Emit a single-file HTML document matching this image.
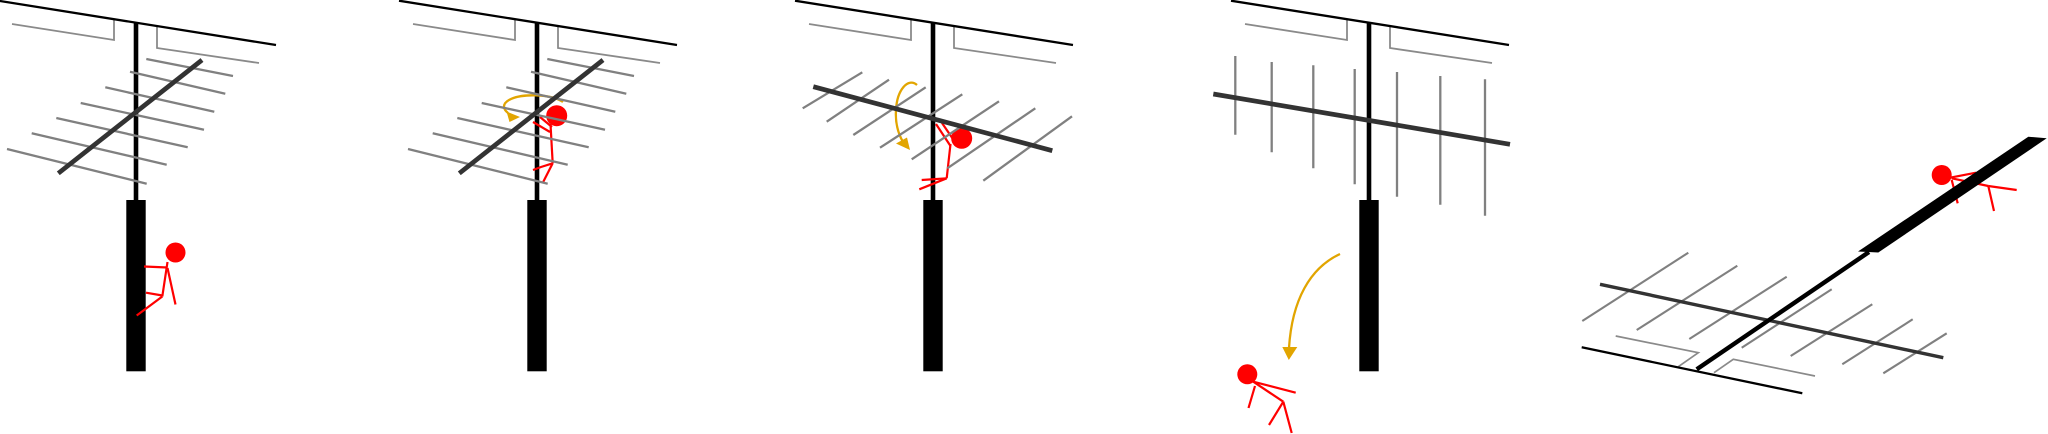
<!DOCTYPE html>
<html>
<head>
<meta charset="utf-8">
<style>
html,body{margin:0;padding:0;background:#fff;}
svg{display:block;}
</style>
</head>
<body>
<svg width="2048" height="434" viewBox="0 0 2048 434" xmlns="http://www.w3.org/2000/svg">
<defs>
  <g id="top">
    <path d="M12,24 L114,40 L114,20" fill="none" stroke="#8a8a8a" stroke-width="1.8"/>
    <path d="M157,27 L157,48 L259,63" fill="none" stroke="#8a8a8a" stroke-width="1.8"/>
    <line x1="-2" y1="0.7" x2="276" y2="45" stroke="#000" stroke-width="2.3"/>
    <line x1="136" y1="22" x2="136" y2="201" stroke="#000" stroke-width="4.6"/>
    <rect x="126.3" y="200" width="19.4" height="171.3" fill="#000"/>
  </g>
  <g id="elemsA" stroke="#808080" stroke-width="2.3" fill="none">
    <line x1="146.3" y1="59" x2="233" y2="76"/>
    <line x1="130" y1="71.7" x2="225.3" y2="93.7"/>
    <line x1="105.3" y1="87.3" x2="214.3" y2="111.7"/>
    <line x1="80.7" y1="103" x2="204" y2="129.7"/>
    <line x1="56.3" y1="118" x2="187.7" y2="147.3"/>
    <line x1="31.7" y1="133.3" x2="166.7" y2="164.7"/>
    <line x1="7" y1="149" x2="146.7" y2="183.7"/>
  </g>
  <line id="boomA" x1="58.3" y1="173.3" x2="202" y2="60" stroke="#333" stroke-width="4.7"/>
</defs>

<!-- Panel 1 -->
<use href="#top"/>
<g stroke="#f00" stroke-width="2.2" fill="none" stroke-linecap="butt">
  <line x1="144" y1="266.5" x2="167.5" y2="267.5"/>
  <line x1="167.5" y1="262" x2="162.3" y2="296.5"/>
  <line x1="167.5" y1="268" x2="175.5" y2="304.5"/>
  <line x1="146" y1="292.7" x2="162.3" y2="295.5"/>
  <line x1="162.3" y1="296.5" x2="136.7" y2="315.5"/>
</g>
<circle cx="175.5" cy="252.5" r="10" fill="#f00"/>
<use href="#elemsA"/>
<use href="#boomA"/>

<!-- Panel 2 -->
<g transform="translate(401,0)"><use href="#top"/></g>
<g stroke="#f00" stroke-width="2.2" fill="none">
  <line x1="533" y1="122" x2="550" y2="132"/>
  <line x1="540" y1="117" x2="552" y2="127"/>
  <line x1="550.5" y1="124" x2="552.7" y2="163.3"/>
  <polyline points="552.7,163.3 541,167 533,170"/>
  <line x1="552.7" y1="163.3" x2="543.3" y2="181.7"/>
</g>
<circle cx="556.7" cy="115.7" r="10.5" fill="#f00"/>
<path d="M563,102 C552,94 521,93 509,100 C502,104 503,109 508,113" fill="none" stroke="#e2a500" stroke-width="2.3"/>
<polygon points="506.5,111.5 509.5,122 520,117" fill="#e2a500"/>
<g transform="translate(401,0)"><use href="#elemsA"/><use href="#boomA"/></g>

<!-- Panel 3 -->
<g transform="translate(797,0)"><use href="#top"/></g>
<g stroke="#f00" stroke-width="2.2" fill="none">
  <line x1="936" y1="124" x2="950.5" y2="146"/>
  <line x1="942" y1="123" x2="955" y2="142"/>
  <line x1="950.5" y1="144" x2="946.7" y2="178.3"/>
  <line x1="946.7" y1="178.3" x2="921.7" y2="180"/>
  <line x1="946.7" y1="178.3" x2="919.3" y2="189.3"/>
</g>
<circle cx="961.7" cy="138.3" r="10.5" fill="#f00"/>
<path d="M917,85 C908,77 897,90 896,110 C895,125 899,135 903,142" fill="none" stroke="#e2a500" stroke-width="2.3"/>
<polygon points="896,143.5 907,137.5 910,150" fill="#e2a500"/>
<g stroke="#808080" stroke-width="2.3" fill="none">
  <line x1="802.7" y1="108.3" x2="862.3" y2="72.3"/>
  <line x1="826.7" y1="121.7" x2="889" y2="79.7"/>
  <line x1="853.3" y1="135" x2="925.7" y2="87.3"/>
  <line x1="880" y1="147.7" x2="962.3" y2="94.3"/>
  <line x1="911.7" y1="159.3" x2="999" y2="101.3"/>
  <line x1="947.3" y1="168.3" x2="1035.3" y2="108.3"/>
  <line x1="983.3" y1="180.7" x2="1072" y2="116.3"/>
</g>
<line x1="813.3" y1="86.7" x2="1052.3" y2="150.7" stroke="#333" stroke-width="4.7"/>

<!-- Panel 4 -->
<g transform="translate(1233,0)"><use href="#top"/></g>
<g stroke="#808080" stroke-width="2.3" fill="none">
  <line x1="1235.3" y1="56" x2="1235.3" y2="134.7"/>
  <line x1="1271.7" y1="62" x2="1271.7" y2="152.3"/>
  <line x1="1313.3" y1="65.3" x2="1313.3" y2="168.3"/>
  <line x1="1354.7" y1="69" x2="1354.7" y2="184.3"/>
  <line x1="1397" y1="72" x2="1397" y2="196.7"/>
  <line x1="1440.3" y1="76" x2="1440.3" y2="204.7"/>
  <line x1="1485" y1="79.3" x2="1485" y2="215.7"/>
</g>
<line x1="1213.3" y1="94" x2="1510" y2="144.3" stroke="#333" stroke-width="4.7"/>
<path d="M1340,254 C1310,268 1292,300 1289,348" fill="none" stroke="#e2a500" stroke-width="2.3"/>
<polygon points="1282.3,347 1297.3,347 1288.8,360" fill="#e2a500"/>
<g stroke="#f00" stroke-width="2.2" fill="none">
  <line x1="1253.3" y1="381.7" x2="1295.7" y2="392.7"/>
  <line x1="1255" y1="386" x2="1248.5" y2="408"/>
  <line x1="1253.3" y1="381.7" x2="1283.3" y2="401.7"/>
  <line x1="1283.3" y1="401.7" x2="1269" y2="425"/>
  <line x1="1283.3" y1="401.7" x2="1291.7" y2="433"/>
</g>
<circle cx="1247.3" cy="374.3" r="10" fill="#f00"/>

<!-- Panel 5 -->
<g stroke="#808080" stroke-width="2.1" fill="none">
  <line x1="1582.3" y1="321" x2="1688.3" y2="252.7"/>
  <line x1="1636.7" y1="330" x2="1737.3" y2="265.7"/>
  <line x1="1689.3" y1="339" x2="1786.7" y2="276.7"/>
  <line x1="1741.7" y1="347.7" x2="1831.7" y2="289.3"/>
  <line x1="1790.7" y1="356" x2="1872.3" y2="304.3"/>
  <line x1="1842.3" y1="364.3" x2="1912.7" y2="319.3"/>
  <line x1="1883.3" y1="373.3" x2="1946.7" y2="333.3"/>
</g>
<path d="M1615.7,336 L1698.3,352.7 L1678.3,366.7" fill="none" stroke="#8a8a8a" stroke-width="1.7"/>
<path d="M1714,372.7 L1733.3,359.3 L1815,376" fill="none" stroke="#8a8a8a" stroke-width="1.7"/>
<line x1="1600" y1="284.3" x2="1943.3" y2="357.7" stroke="#333" stroke-width="3.4"/>
<line x1="1581.7" y1="347.3" x2="1802.3" y2="393.3" stroke="#000" stroke-width="2.3"/>
<g stroke="#f00" stroke-width="2.2" fill="none">
  <line x1="1950" y1="177.7" x2="1976" y2="172.7"/>
  <line x1="1951.7" y1="178.3" x2="1988.3" y2="186"/>
  <line x1="1951.7" y1="180" x2="1957.7" y2="203.3"/>
  <line x1="1988.3" y1="186" x2="2016.7" y2="190"/>
  <line x1="1988.3" y1="186" x2="1994" y2="211"/>
</g>
<circle cx="1941.7" cy="175" r="10" fill="#f00"/>
<line x1="1696.7" y1="369.3" x2="1869" y2="252" stroke="#000" stroke-width="4.4"/>
<polygon points="1858,251.5 2028.3,136.7 2046.7,138.3 1878.3,252.5" fill="#000"/>
</svg>
</body>
</html>
